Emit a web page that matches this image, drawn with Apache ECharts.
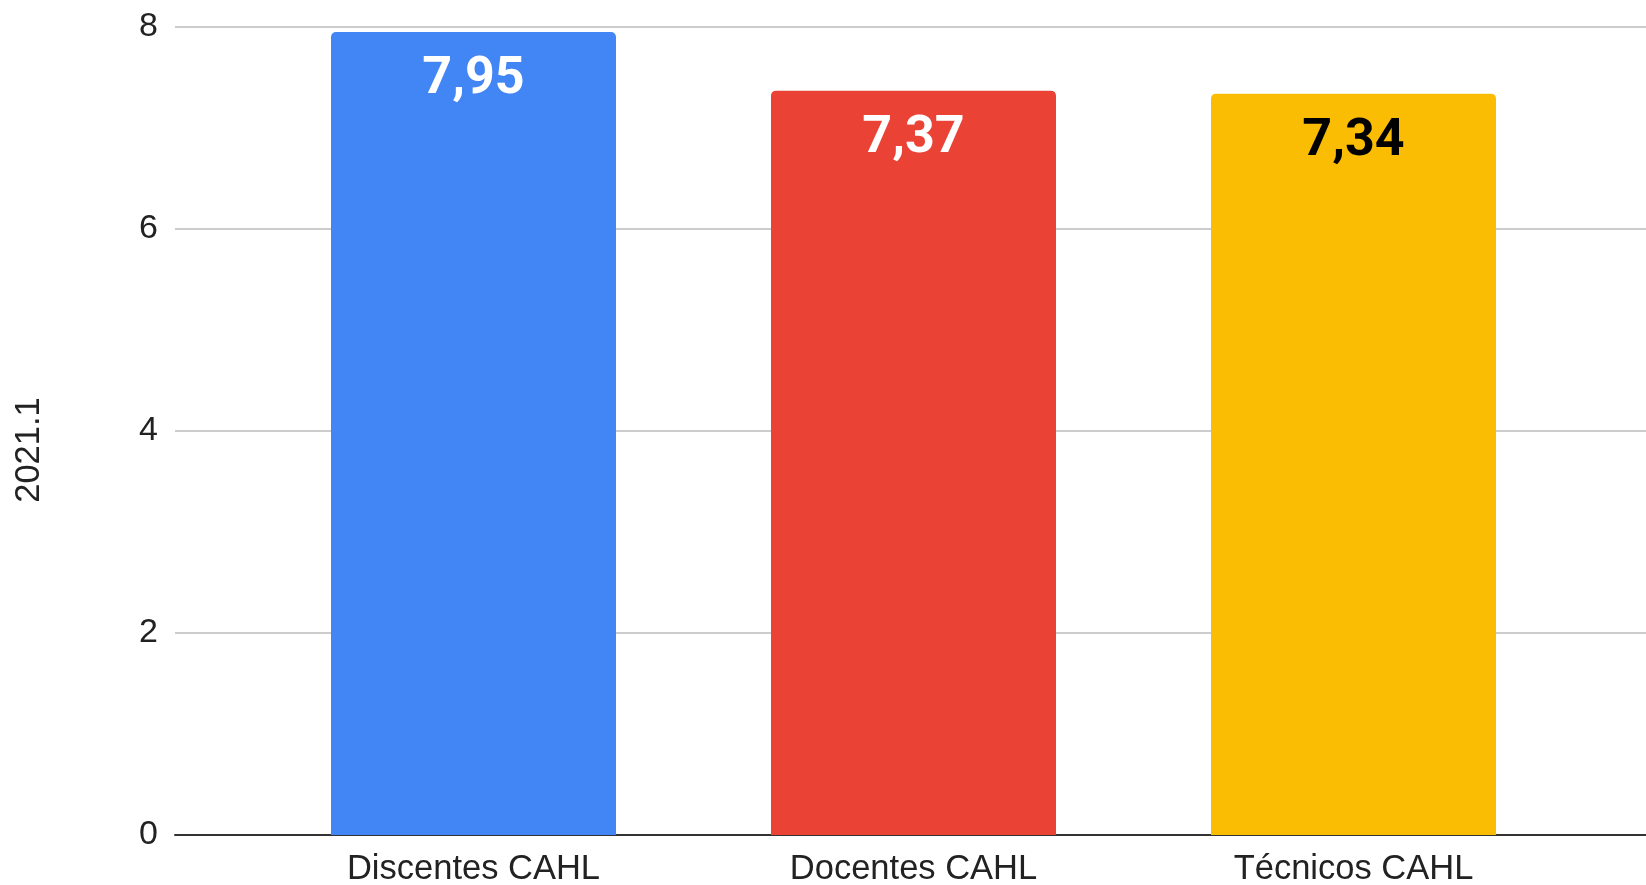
<!DOCTYPE html>
<html><head><meta charset="utf-8">
<script src="https://cdn.jsdelivr.net/npm/echarts@6/dist/echarts.min.js"></script>
<style>html,body{margin:0;padding:0;background:#fff}#c{width:1646px;height:885px}</style>
</head><body><div id="c"></div>
<script>
const categories = ['Discentes CAHL', 'Docentes CAHL', 'Técnicos CAHL'];
const values = [7.95, 7.37, 7.34];
const yTicks = [0, 2, 4, 6, 8];
const axisTitle = '2021.1';

const barColors = ['#4285F4', '#EA4335', '#FBBC04'];
const labelColors = ['#ffffff', '#ffffff', '#000000'];
const font = '"Liberation Sans", Arial, sans-serif';

const chart = echarts.init(document.getElementById('c'));
chart.setOption({
  animation: false,
  backgroundColor: '#fff',
  grid: [
    {left: 175, right: 0, top: 27, bottom: 50, containLabel: false, outerBoundsMode: 'none'},
    {left: 253.5, right: 72.5, top: 27, bottom: 50, containLabel: false, outerBoundsMode: 'none'}
  ],
  xAxis: [
    {gridIndex: 0, type: 'value', min: 0, max: 1, axisLabel: {show: false}, axisTick: {show: false},
     splitLine: {show: false}, axisLine: {show: true, lineStyle: {color: '#333', width: 2}}},
    {gridIndex: 1, type: 'category', data: categories, axisLine: {show: false}, axisTick: {show: false},
     axisLabel: {margin: 17, fontSize: 34.5, color: '#222', fontFamily: font}}
  ],
  yAxis: [
    {gridIndex: 0, type: 'value', min: yTicks[0], max: yTicks[yTicks.length - 1], interval: 2,
     axisLine: {show: false}, axisTick: {show: false},
     axisLabel: {margin: 17, fontSize: 34, color: '#222', fontFamily: font},
     splitLine: {lineStyle: {color: '#cccccc', width: 2}},
     name: axisTitle, nameLocation: 'middle', nameGap: 128, nameRotate: 90,
     nameTextStyle: {fontSize: 34.5, color: '#222', fontFamily: font, padding: [0, 38, 0, 0]}},
    {gridIndex: 1, type: 'value', min: 0, max: 8, show: false}
  ],
  series: [{
    type: 'bar', xAxisIndex: 1, yAxisIndex: 1, barWidth: 285,
    data: values.map((v, i) => ({
      value: v,
      itemStyle: {color: barColors[i], borderRadius: [5, 5, 0, 0]},
      label: {color: labelColors[i]}
    })),
    label: {
      show: true, position: 'insideTop', distance: 22,
      fontSize: 52, fontWeight: 'bold', fontFamily: 'Roboto, sans-serif',
      formatter: p => p.value.toFixed(2).replace('.', ',')
    }
  }]
});
</script></body></html>
